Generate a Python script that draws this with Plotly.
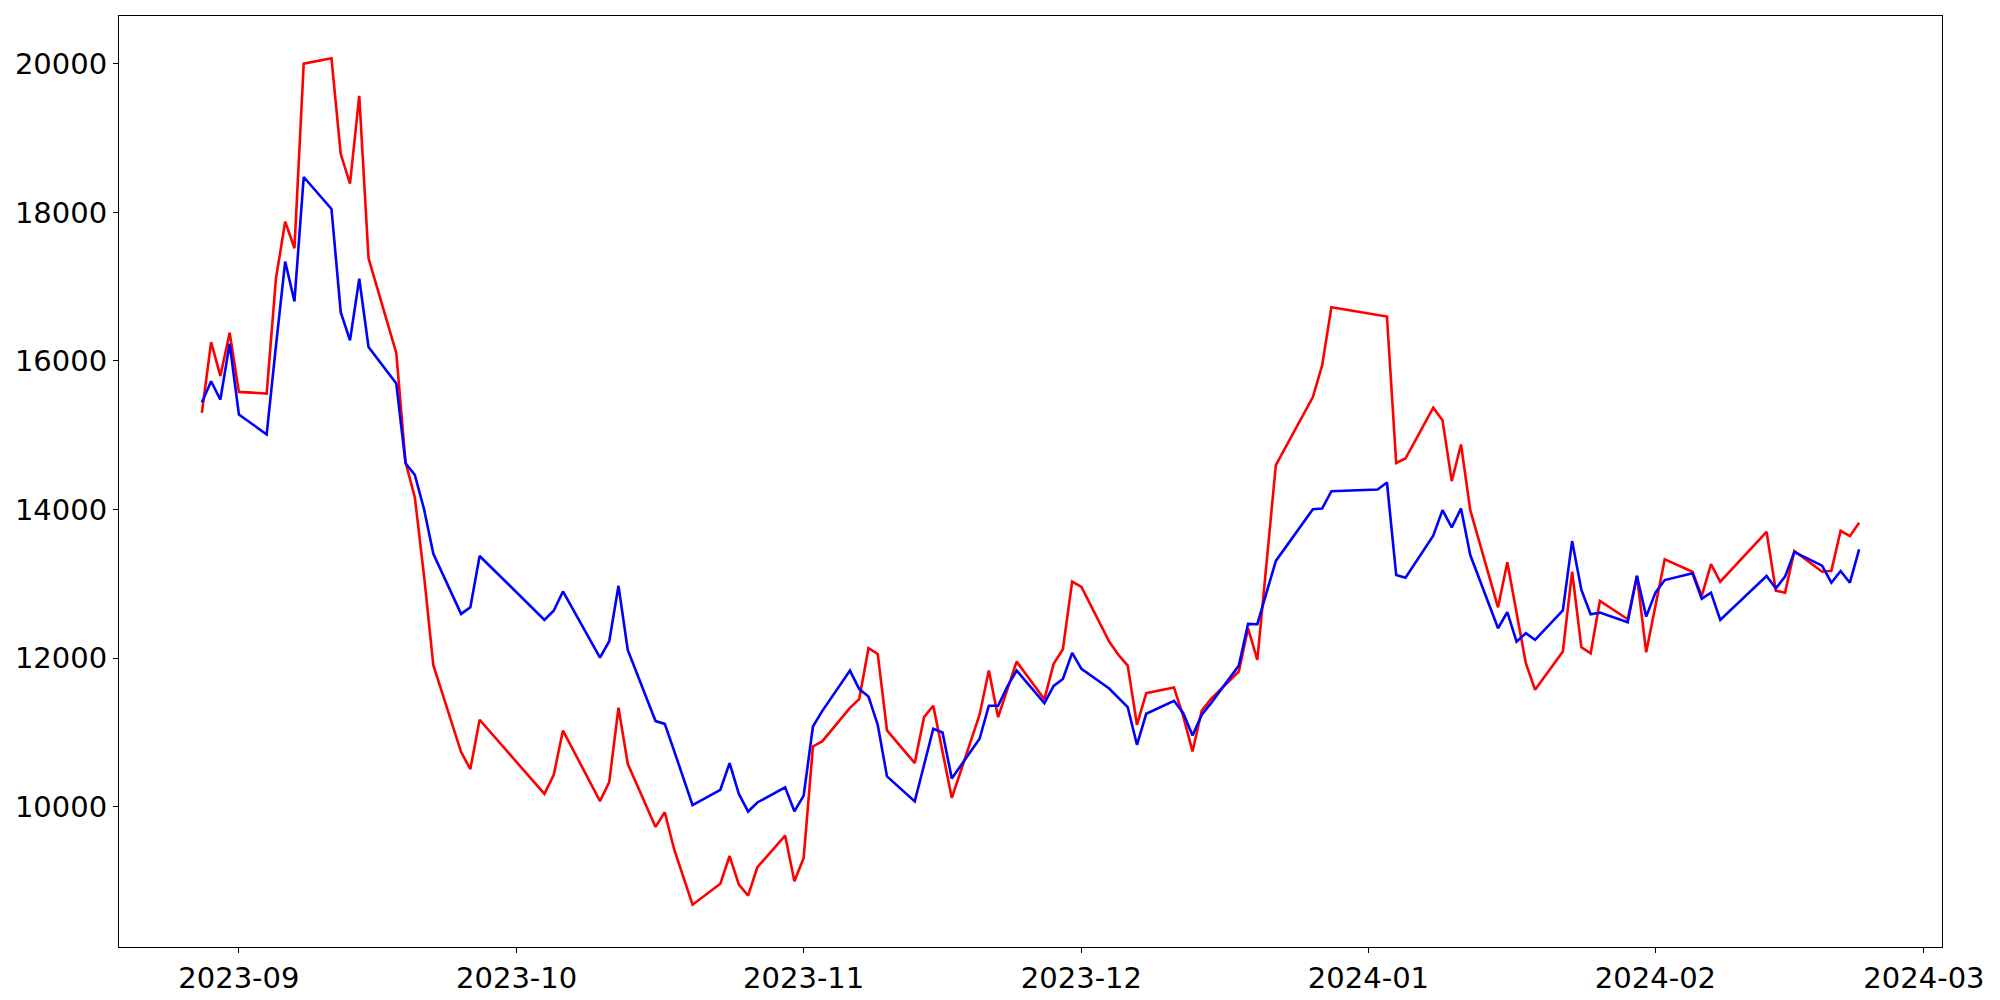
import datetime
import plotly.graph_objs as go

# trading days (KRX calendar, Aug 2023 - Feb 2024)
dates_aug = ["2023-08-28", "2023-08-29", "2023-08-30", "2023-08-31"]
dates_sep = ["2023-09-01", "2023-09-04", "2023-09-05", "2023-09-06", "2023-09-07", "2023-09-08",
             "2023-09-11", "2023-09-12", "2023-09-13", "2023-09-14", "2023-09-15", "2023-09-18",
             "2023-09-19", "2023-09-20", "2023-09-21", "2023-09-22", "2023-09-25", "2023-09-26",
             "2023-09-27"]
dates_oct = ["2023-10-04", "2023-10-05", "2023-10-06", "2023-10-10", "2023-10-11", "2023-10-12",
             "2023-10-13", "2023-10-16", "2023-10-17", "2023-10-18", "2023-10-19", "2023-10-20",
             "2023-10-23", "2023-10-24", "2023-10-25", "2023-10-26", "2023-10-27", "2023-10-30",
             "2023-10-31"]
dates_nov = ["2023-11-01", "2023-11-02", "2023-11-03", "2023-11-06", "2023-11-07", "2023-11-08",
             "2023-11-09", "2023-11-10", "2023-11-13", "2023-11-14", "2023-11-15", "2023-11-16",
             "2023-11-17", "2023-11-20", "2023-11-21", "2023-11-22", "2023-11-23", "2023-11-24",
             "2023-11-27", "2023-11-28", "2023-11-29", "2023-11-30"]
dates_dec = ["2023-12-01", "2023-12-04", "2023-12-05", "2023-12-06", "2023-12-07", "2023-12-08",
             "2023-12-11", "2023-12-12", "2023-12-13", "2023-12-14", "2023-12-15", "2023-12-18",
             "2023-12-19", "2023-12-20", "2023-12-21", "2023-12-22", "2023-12-26", "2023-12-27",
             "2023-12-28"]
dates_jan = ["2024-01-02", "2024-01-03", "2024-01-04", "2024-01-05", "2024-01-08", "2024-01-09",
             "2024-01-10", "2024-01-11", "2024-01-12", "2024-01-15", "2024-01-16", "2024-01-17",
             "2024-01-18", "2024-01-19", "2024-01-22", "2024-01-23", "2024-01-24", "2024-01-25",
             "2024-01-26", "2024-01-29", "2024-01-30", "2024-01-31"]
dates_feb = ["2024-02-01", "2024-02-02", "2024-02-05", "2024-02-06", "2024-02-07", "2024-02-08",
             "2024-02-13", "2024-02-14", "2024-02-15", "2024-02-16", "2024-02-19", "2024-02-20",
             "2024-02-21", "2024-02-22", "2024-02-23"]

red_vals = [15302, 16255, 15799, 16381,
            15584, 15562, 17107, 17876, 17518, 20003, 20075, 18786, 18387, 19569, 17384, 16108,
            14635, 14167, 13104, 11905, 10735, 10506, 11170,
            10171, 10425, 11024, 10075, 10331, 11331, 10577, 9727, 9925, 9430, 9056, 8680,
            8962, 9335, 8949, 8802, 9184, 9610, 8996,
            9310, 10810, 10878, 11330, 11447, 12133, 12056, 11026, 10587, 11205, 11358, 10740,
            10117, 11237, 11832, 11205, 11573, 11953, 11447, 11922, 12120, 13029,
            12958, 12222, 12043, 11899, 11102, 11528, 11604, 11214, 10743, 11294, 11452, 11819,
            12401, 11976, 13284, 14597, 15515, 15941, 16725,
            16613, 16599, 14628, 14687, 15372, 15202, 14382, 14875, 13992, 12684, 13290, 12608,
            11931, 11573, 12088, 13163, 12146, 12065, 12769, 12523, 13105, 12079,
            12706, 13329, 13163, 12836, 13266, 13028, 13700, 12907, 12881, 13441, 13163, 13176,
            13714, 13642, 13821]

blue_vals = [15441, 15727, 15481, 16234,
             15280, 15011, 16200, 17339, 16802, 18477, 18047, 16658, 16278, 17107, 16188, 15696,
             14622, 14466, 14004, 13405, 12595, 12685, 13375,
             12515, 12637, 12897, 12005, 12227, 12973, 12109, 11152, 11114, 10755, 10387, 10019,
             10227, 10586, 10171, 9934, 10056, 10260, 9937,
             10148, 11079, 11286, 11832, 11582, 11483, 11102, 10407, 10071, 10560, 11048, 10999,
             10380, 10914, 11358, 11358, 11617, 11832, 11394, 11626, 11718, 12070,
             11855, 11590, 11461, 11340, 10833, 11250, 11425, 11259, 10958, 11237, 11394, 11899,
             12460, 12456, 12884, 13308, 14005, 14014, 14247,
             14270, 14364, 13118, 13082, 13647, 13992, 13759, 14014, 13387, 12402, 12620, 12222,
             12334, 12245, 12643, 13575, 12917, 12590, 12612, 12482, 13109, 12558,
             12881, 13051, 13141, 12800, 12881, 12513, 13105, 12939, 13096, 13427, 13244, 13015,
             13172, 13015, 13463]

dates = dates_aug + dates_sep + dates_oct + dates_nov + dates_dec + dates_jan + dates_feb

# matplotlib-like 5% autoscale margins
d0 = datetime.datetime.strptime(dates[0], "%Y-%m-%d")
d1 = datetime.datetime.strptime(dates[-1], "%Y-%m-%d")
pad = (d1 - d0) * 0.05
x_range = [d0 - pad, d1 + pad]
lo = min(min(red_vals), min(blue_vals))
hi = max(max(red_vals), max(blue_vals))
y_range = [lo - (hi - lo) * 0.05, hi + (hi - lo) * 0.05]

fig = go.Figure()
fig.add_trace(go.Scatter(x=dates, y=red_vals, mode="lines", line=dict(color="#ff0000", width=2.6)))
fig.add_trace(go.Scatter(x=dates, y=blue_vals, mode="lines", line=dict(color="#0000ff", width=2.6)))

axis_style = dict(showgrid=False, zeroline=False, showline=True, mirror=True, linecolor="black",
                  linewidth=1.1, ticks="outside", ticklen=5, tickwidth=1.1, tickcolor="black",
                  tickfont=dict(family="DejaVu Sans", size=29, color="black"))

# page body adds 8px, so margins are shifted to keep the plot box in place
fig.update_layout(width=2000, height=1000, showlegend=False,
                  plot_bgcolor="white", paper_bgcolor="white",
                  margin=dict(l=105, r=66, t=7, b=61))
fig.update_xaxes(range=x_range, dtick="M1", tick0="2023-09-01", tickformat="%Y-%m", **axis_style)
fig.update_yaxes(range=y_range, dtick=2000, tickformat="d", **axis_style)

fig.write_html("out.html")
